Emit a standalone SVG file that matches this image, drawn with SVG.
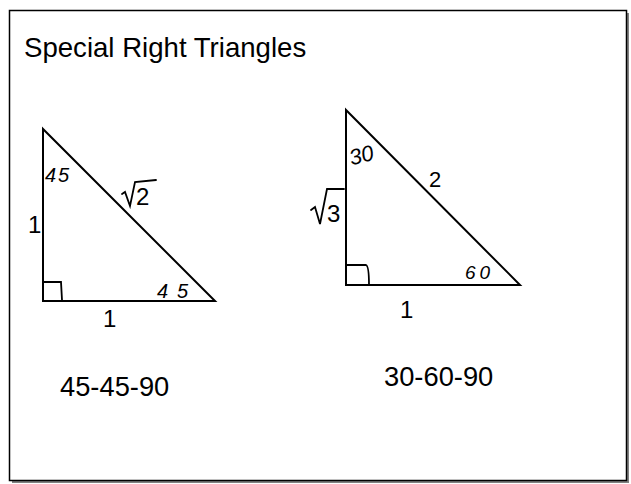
<svg xmlns="http://www.w3.org/2000/svg" width="631" height="484" viewBox="0 0 631 484">
<style>
.t{font-family:"Liberation Sans",Arial,sans-serif;fill:#000}
.hw{font-family:"Liberation Sans",Arial,sans-serif;fill:#000;font-style:italic}
.tri{fill:none;stroke:#000;stroke-width:2;stroke-linejoin:miter}
.mark{fill:none;stroke:#000;stroke-width:1.8;stroke-linecap:round}
</style>
<rect width="631" height="484" fill="#fff"/>
<rect x="12" y="13" width="617" height="470" fill="#808080"/>
<rect x="9.5" y="10.5" width="617" height="470" fill="#fff" stroke="#000" stroke-width="1.5"/>
<text class="t" x="24" y="57" font-size="27.6">Special Right Triangles</text>
<g id="tri45">
<path class="tri" d="M43,129 L43,301 L215,301 Z"/>
<path class="mark" d="M43,282 L61,282 L62,300"/>
<text class="t" x="28" y="233" font-size="24">1</text>
<text class="t" x="103" y="327" font-size="24">1</text>
<text class="hw" x="45" y="182" font-size="20" textLength="24">45</text>
<text class="hw" x="157" y="298" font-size="20" textLength="31">45</text>
<path class="mark" d="M122,194 L125,192 L130,206 L135,182 L156,180"/>
<text class="t" x="136" y="205" font-size="24">2</text>
<text class="t" x="60" y="396" font-size="27.3">45-45-90</text>
</g>
<g id="tri30">
<path class="tri" d="M346,110 L346,285 L520,285 Z"/>
<path class="mark" d="M347,265 L366,265 Q369,266 369,285"/>
<text class="t" x="429" y="187" font-size="22">2</text>
<text class="t" x="400" y="318" font-size="24">1</text>
<text class="hw" x="349" y="163" font-size="22" transform="rotate(-15 360 155)">30</text>
<text class="hw" x="465" y="279" font-size="19" textLength="25">60</text>
<path class="mark" d="M311,210 L315,207 L320,224 L327,189 L344,189"/>
<text class="t" x="327" y="222" font-size="24">3</text>
<text class="t" x="384" y="386" font-size="27.3">30-60-90</text>
</g>
</svg>
